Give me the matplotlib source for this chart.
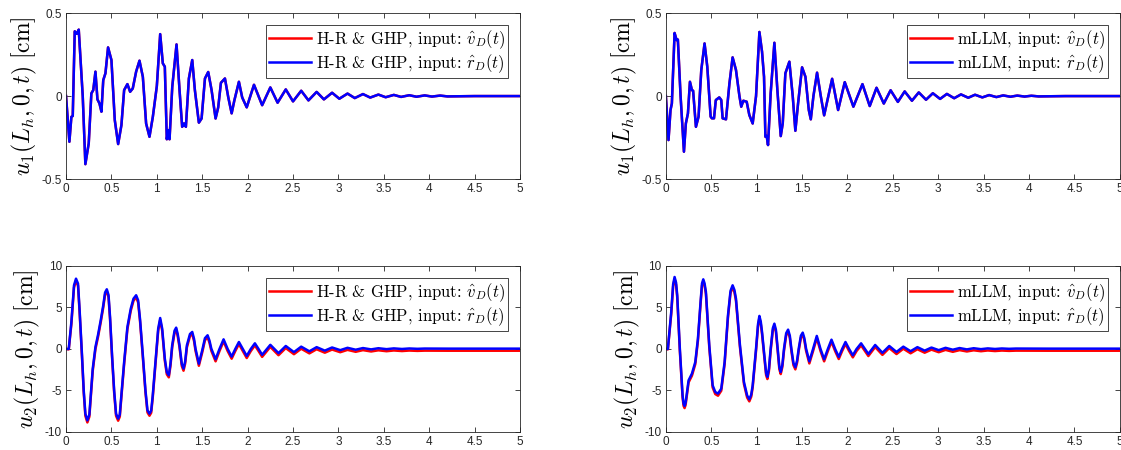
import numpy as np
import matplotlib
matplotlib.use('Agg')
import matplotlib.pyplot as plt

plt.rcParams['mathtext.fontset'] = 'cm'
plt.rcParams['font.family'] = ['Liberation Sans', 'DejaVu Sans']

# u1 tip displacement, H-R & GHP model (both inputs overlap)
hr_u1 = [(0.000, 0.0), (0.037, -0.275), (0.059, -0.125), (0.074, -0.12), (0.096, 0.39),
         (0.118, 0.375), (0.140, 0.40), (0.184, 0.0), (0.213, -0.41), (0.250, -0.285),
         (0.279, 0.016), (0.300, 0.036), (0.324, 0.147), (0.346, -0.02), (0.368, -0.044),
         (0.390, -0.094), (0.410, 0.096), (0.434, 0.137), (0.463, 0.293), (0.500, 0.217),
         (0.537, -0.145), (0.574, -0.289), (0.610, -0.175), (0.640, 0.036), (0.676, 0.072),
         (0.706, 0.026), (0.735, 0.046), (0.772, 0.147), (0.809, 0.213), (0.846, 0.116),
         (0.882, -0.165), (0.919, -0.245), (0.956, -0.125), (1.000, 0.06), (1.037, 0.373),
         (1.066, 0.197), (1.088, 0.177), (1.110, -0.26), (1.125, -0.205), (1.140, -0.26),
         (1.170, 0.056), (1.217, 0.311), (1.250, 0.036), (1.279, -0.185), (1.300, -0.165),
         (1.320, -0.185), (1.353, 0.106), (1.390, 0.217), (1.419, 0.036), (1.463, -0.16),
         (1.493, -0.135), (1.530, 0.106), (1.566, 0.145), (1.603, 0.036), (1.647, -0.135),
         (1.676, -0.068), (1.706, 0.08), (1.750, 0.106), (1.787, -0.008), (1.824, -0.104),
         (1.853, -0.028), (1.904, 0.086), (1.940, -0.008), (1.990, -0.068), (2.070, 0.068),
         (2.160, -0.055), (2.250, 0.052), (2.330, -0.04), (2.420, 0.04), (2.500, -0.032),
         (2.590, 0.032), (2.670, -0.026), (2.760, 0.025), (2.840, -0.02), (2.930, 0.02),
         (3.010, -0.016), (3.100, 0.015), (3.180, -0.012), (3.270, 0.012), (3.350, -0.009),
         (3.440, 0.009), (3.520, -0.007), (3.610, 0.007), (3.690, -0.005), (3.780, 0.005),
         (3.860, -0.004), (3.950, 0.004), (4.030, -0.003), (4.120, 0.003), (4.200, -0.002),
         (4.500, 0.0), (5.000, 0.0)]

# u1 tip displacement, mLLM model (both inputs overlap)
ml_u1 = [(0.000, 0.0), (0.029, -0.265), (0.051, -0.084), (0.066, -0.044), (0.096, 0.38),
         (0.118, 0.337), (0.132, 0.34), (0.162, 0.0), (0.199, -0.335), (0.220, -0.165),
         (0.243, -0.104), (0.265, 0.086), (0.287, 0.036), (0.300, 0.032), (0.331, -0.185),
         (0.360, -0.124), (0.390, 0.157), (0.426, 0.317), (0.456, 0.177), (0.493, -0.124),
         (0.507, -0.134), (0.530, -0.134), (0.550, -0.024), (0.588, -0.008), (0.610, -0.024),
         (0.625, -0.134), (0.662, -0.14), (0.700, 0.076), (0.735, 0.233), (0.772, 0.157),
         (0.810, 0.0), (0.830, -0.064), (0.853, -0.028), (0.890, -0.034), (0.919, -0.114),
         (0.956, -0.165), (0.993, 0.0), (1.030, 0.386), (1.059, 0.267), (1.081, 0.116),
         (1.096, -0.245), (1.110, -0.24), (1.125, -0.295), (1.154, 0.016), (1.195, 0.321),
         (1.228, 0.036), (1.265, -0.241), (1.287, -0.165), (1.316, 0.137), (1.360, 0.207),
         (1.397, 0.0), (1.426, -0.209), (1.456, -0.044), (1.500, 0.173), (1.537, 0.116),
         (1.574, -0.084), (1.596, -0.14), (1.625, 0.0), (1.665, 0.141), (1.706, 0.0),
         (1.743, -0.116), (1.831, 0.104), (1.897, -0.084), (1.970, 0.084), (2.065, -0.064),
         (2.165, 0.072), (2.245, -0.06), (2.320, 0.05), (2.400, -0.045), (2.475, 0.035),
         (2.555, -0.035), (2.630, 0.028), (2.710, -0.028), (2.785, 0.022), (2.865, -0.022),
         (2.940, 0.017), (3.020, -0.017), (3.095, 0.013), (3.175, -0.013), (3.250, 0.01),
         (3.330, -0.01), (3.405, 0.008), (3.485, -0.008), (3.560, 0.006), (3.640, -0.006),
         (3.715, 0.004), (3.795, -0.004), (3.870, 0.003), (3.950, -0.003), (4.025, 0.002),
         (4.105, -0.002), (4.400, 0.0), (5.000, 0.0)]

# u2 tip displacement, H-R & GHP, input r_D (blue)
hr_u2_r = [(0.000, 0.0), (0.030, 0.0), (0.059, 3.25), (0.088, 7.67), (0.110, 8.47), (0.132, 7.87),
           (0.150, 4.6), (0.176, -0.76), (0.195, -5.0), (0.213, -7.8), (0.235, -8.6), (0.257, -7.9),
           (0.275, -5.2), (0.294, -2.4), (0.324, 0.24), (0.353, 1.73), (0.382, 3.45), (0.410, 5.26),
           (0.430, 6.8), (0.449, 7.19), (0.468, 6.5), (0.485, 3.8), (0.507, -0.76), (0.530, -5.0),
           (0.551, -7.8), (0.574, -8.39), (0.592, -7.9), (0.610, -5.5), (0.640, -1.57), (0.676, 2.65),
           (0.713, 4.86), (0.743, 6.06), (0.772, 6.47), (0.794, 5.86), (0.815, 3.6), (0.846, -0.76),
           (0.875, -5.0), (0.897, -7.39), (0.919, -7.79), (0.938, -7.43), (0.955, -5.6), (0.985, -1.57),
           (1.015, 2.45), (1.037, 3.73), (1.059, 2.45), (1.088, -1.16), (1.110, -2.8), (1.132, -3.17),
           (1.150, -1.8), (1.169, 0.44), (1.195, 2.2), (1.213, 2.57), (1.230, 1.8), (1.250, 0.44),
           (1.275, -1.8), (1.294, -2.37), (1.312, -1.5), (1.331, 0.44), (1.365, 1.8), (1.390, 2.05),
           (1.410, 1.2), (1.426, 0.04), (1.463, -1.77), (1.500, -0.16), (1.530, 1.3), (1.559, 1.65),
           (1.580, 1.0), (1.600, 0.04), (1.647, -1.24), (1.690, 0.0), (1.735, 1.16), (1.780, 0.0),
           (1.824, -0.92), (1.864, 0.0), (1.904, 0.84), (1.947, 0.0), (1.990, -0.84), (2.035, 0.0),
           (2.080, 0.68), (2.120, 0.0), (2.160, -0.7), (2.250, 0.5), (2.340, -0.5), (2.420, 0.36),
           (2.510, -0.38), (2.590, 0.28), (2.680, -0.28), (2.760, 0.22), (2.850, -0.2), (2.930, 0.18),
           (3.020, -0.14), (3.100, 0.14), (3.190, -0.09), (3.270, 0.11), (3.360, -0.05), (3.440, 0.09),
           (3.530, -0.02), (3.610, 0.07), (3.700, 0.0), (3.780, 0.06), (3.870, 0.02), (3.950, 0.05),
           (4.200, 0.04), (5.000, 0.04)]

# u2 tip displacement, H-R & GHP, input v_D (red, sits a bit lower)
hr_u2_v = [(0.000, 0.0), (0.030, -0.05), (0.059, 3.0), (0.088, 7.42), (0.110, 8.22), (0.132, 7.62),
           (0.150, 4.35), (0.176, -1.01), (0.195, -5.25), (0.213, -8.05), (0.235, -8.85), (0.257, -8.15),
           (0.275, -5.45), (0.294, -2.65), (0.324, -0.01), (0.353, 1.48), (0.382, 3.2), (0.410, 5.01),
           (0.430, 6.55), (0.449, 6.94), (0.468, 6.25), (0.485, 3.55), (0.507, -1.01), (0.530, -5.25),
           (0.551, -8.05), (0.574, -8.64), (0.592, -8.15), (0.610, -5.75), (0.640, -1.82), (0.676, 2.4),
           (0.713, 4.61), (0.743, 5.81), (0.772, 6.22), (0.794, 5.61), (0.815, 3.35), (0.846, -1.01),
           (0.875, -5.25), (0.897, -7.64), (0.919, -8.04), (0.938, -7.68), (0.955, -5.85), (0.985, -1.82),
           (1.015, 2.2), (1.037, 3.48), (1.059, 2.2), (1.088, -1.41), (1.110, -3.05), (1.132, -3.42),
           (1.150, -2.05), (1.169, 0.19), (1.195, 1.95), (1.213, 2.32), (1.230, 1.55), (1.250, 0.19),
           (1.275, -2.05), (1.294, -2.62), (1.312, -1.75), (1.331, 0.19), (1.365, 1.55), (1.390, 1.8),
           (1.410, 0.95), (1.426, -0.21), (1.463, -2.02), (1.500, -0.41), (1.530, 1.05), (1.559, 1.4),
           (1.580, 0.75), (1.600, -0.21), (1.647, -1.49), (1.690, -0.25), (1.735, 0.91), (1.780, -0.25),
           (1.824, -1.17), (1.864, -0.25), (1.904, 0.59), (1.947, -0.25), (1.990, -1.09), (2.035, -0.25),
           (2.080, 0.43), (2.120, -0.25), (2.160, -0.95), (2.250, 0.25), (2.340, -0.75), (2.420, 0.11),
           (2.510, -0.63), (2.590, 0.03), (2.680, -0.53), (2.760, -0.03), (2.850, -0.45), (2.930, -0.07),
           (3.020, -0.39), (3.100, -0.11), (3.190, -0.34), (3.270, -0.14), (3.360, -0.3), (3.440, -0.16),
           (3.530, -0.27), (3.610, -0.18), (3.700, -0.25), (3.780, -0.19), (3.870, -0.23), (3.950, -0.2),
           (4.200, -0.21), (5.000, -0.21)]

# u2 tip displacement, mLLM, input r_D (blue)
ml_u2_r = [(0.000, 0.0), (0.022, 0.0), (0.059, 4.46), (0.080, 7.8), (0.096, 8.67), (0.112, 8.0),
           (0.125, 6.47), (0.154, 0.0), (0.184, -5.6), (0.195, -6.6), (0.206, -6.87), (0.217, -6.5),
           (0.228, -5.6), (0.250, -3.78), (0.287, -2.97), (0.324, -1.57), (0.353, 1.24), (0.382, 5.66),
           (0.398, 7.9), (0.412, 8.39), (0.426, 7.9), (0.441, 6.87), (0.478, 0.44), (0.515, -4.38),
           (0.544, -5.18), (0.574, -5.38), (0.610, -4.78), (0.647, -1.57), (0.684, 4.06), (0.712, 7.0),
           (0.735, 7.67), (0.755, 7.1), (0.772, 6.06), (0.816, 0.44), (0.860, -3.98), (0.895, -5.6),
           (0.919, -6.06), (0.940, -5.5), (0.956, -4.38), (0.993, 0.04), (1.015, 3.0), (1.030, 3.98),
           (1.045, 3.3), (1.059, 2.05), (1.088, -1.16), (1.104, -2.9), (1.118, -3.37), (1.135, -2.4),
           (1.154, 0.04), (1.178, 2.5), (1.195, 3.05), (1.212, 2.3), (1.228, 0.44), (1.250, -2.2),
           (1.265, -2.77), (1.283, -1.9), (1.301, 0.04), (1.325, 1.9), (1.346, 2.33), (1.365, 1.6),
           (1.382, 0.04), (1.405, -1.7), (1.426, -2.21), (1.445, -1.4), (1.463, 0.04), (1.487, 1.6),
           (1.507, 1.97), (1.525, 1.3), (1.544, 0.04), (1.580, -1.49), (1.621, 0.0), (1.662, 1.57),
           (1.703, 0.0), (1.743, -1.24), (1.784, 0.0), (1.824, 1.12), (1.864, 0.0), (1.904, -0.96),
           (1.941, 0.0), (1.978, 0.84), (2.018, 0.0), (2.059, -0.76), (2.100, 0.0), (2.150, 0.68),
           (2.230, -0.6), (2.305, 0.48), (2.385, -0.46), (2.460, 0.36), (2.540, -0.36), (2.615, 0.28),
           (2.695, -0.27), (2.770, 0.22), (2.850, -0.2), (2.925, 0.17), (3.005, -0.14), (3.080, 0.14),
           (3.160, -0.09), (3.235, 0.11), (3.315, -0.05), (3.390, 0.09), (3.470, -0.02), (3.545, 0.07),
           (3.625, 0.0), (3.700, 0.06), (3.780, 0.02), (3.855, 0.05), (4.200, 0.04), (5.000, 0.04)]

# u2 tip displacement, mLLM, input v_D (red)
ml_u2_v = [(0.000, 0.0), (0.022, -0.05), (0.059, 4.21), (0.080, 7.55), (0.096, 8.42), (0.112, 7.75),
           (0.125, 6.22), (0.154, -0.25), (0.184, -5.85), (0.195, -6.85), (0.206, -7.12), (0.217, -6.75),
           (0.228, -5.85), (0.250, -4.03), (0.287, -3.22), (0.324, -1.82), (0.353, 0.99), (0.382, 5.41),
           (0.398, 7.65), (0.412, 8.14), (0.426, 7.65), (0.441, 6.62), (0.478, 0.19), (0.515, -4.63),
           (0.544, -5.43), (0.574, -5.63), (0.610, -5.03), (0.647, -1.82), (0.684, 3.81), (0.712, 6.75),
           (0.735, 7.42), (0.755, 6.85), (0.772, 5.81), (0.816, 0.19), (0.860, -4.23), (0.895, -5.85),
           (0.919, -6.31), (0.940, -5.75), (0.956, -4.63), (0.993, -0.21), (1.015, 2.75), (1.030, 3.73),
           (1.045, 3.05), (1.059, 1.8), (1.088, -1.41), (1.104, -3.15), (1.118, -3.62), (1.135, -2.65),
           (1.154, -0.21), (1.178, 2.25), (1.195, 2.8), (1.212, 2.05), (1.228, 0.19), (1.250, -2.45),
           (1.265, -3.02), (1.283, -2.15), (1.301, -0.21), (1.325, 1.65), (1.346, 2.08), (1.365, 1.35),
           (1.382, -0.21), (1.405, -1.95), (1.426, -2.46), (1.445, -1.65), (1.463, -0.21), (1.487, 1.35),
           (1.507, 1.72), (1.525, 1.05), (1.544, -0.21), (1.580, -1.74), (1.621, -0.25), (1.662, 1.32),
           (1.703, -0.25), (1.743, -1.49), (1.784, -0.25), (1.824, 0.87), (1.864, -0.25), (1.904, -1.21),
           (1.941, -0.25), (1.978, 0.59), (2.018, -0.25), (2.059, -1.01), (2.100, -0.25), (2.150, 0.43),
           (2.230, -0.85), (2.305, 0.23), (2.385, -0.71), (2.460, 0.11), (2.540, -0.61), (2.615, 0.03),
           (2.695, -0.52), (2.770, -0.03), (2.850, -0.45), (2.925, -0.08), (3.005, -0.39), (3.080, -0.11),
           (3.160, -0.34), (3.235, -0.14), (3.315, -0.3), (3.390, -0.16), (3.470, -0.27), (3.545, -0.18),
           (3.625, -0.25), (3.700, -0.19), (3.780, -0.23), (3.855, -0.2), (4.200, -0.21), (5.000, -0.21)]

fig = plt.figure(figsize=(11.21, 4.5), dpi=100)
pos = {(0, 0): [0.0589, 0.602, 0.405, 0.369], (0, 1): [0.594, 0.602, 0.405, 0.369],
       (1, 0): [0.0589, 0.040, 0.405, 0.369], (1, 1): [0.594, 0.040, 0.405, 0.369]}

panels = [((0, 0), hr_u1, hr_u1, 'H-R & GHP', r'$u_1(L_h,0,t)\ [\mathrm{cm}]$', 0.5),
          ((0, 1), ml_u1, ml_u1, 'mLLM', r'$u_1(L_h,0,t)\ [\mathrm{cm}]$', 0.5),
          ((1, 0), hr_u2_v, hr_u2_r, 'H-R & GHP', r'$u_2(L_h,0,t)\ [\mathrm{cm}]$', 10),
          ((1, 1), ml_u2_v, ml_u2_r, 'mLLM', r'$u_2(L_h,0,t)\ [\mathrm{cm}]$', 10)]

for key, red, blue, model, ylab, lim in panels:
    ax = fig.add_axes(pos[key])
    tr, yr = np.array(red).T
    tb, yb = np.array(blue).T
    ax.plot(tr, yr, color='red', lw=1.8, label=model + r', input: $\hat{v}_D(t)$')
    ax.plot(tb, yb, color='blue', lw=1.8, label=model + r', input: $\hat{r}_D(t)$')
    ax.set_xlim(0, 5)
    ax.set_ylim(-lim, lim)
    ax.set_xticks(np.arange(0, 5.01, 0.5))
    ax.set_xticklabels(['0', '0.5', '1', '1.5', '2', '2.5', '3', '3.5', '4', '4.5', '5'])
    if lim == 0.5:
        ax.set_yticks([-0.5, 0, 0.5])
        ax.set_yticklabels(['-0.5', '0', '0.5'])
    else:
        ax.set_yticks([-10, -5, 0, 5, 10])
        ax.set_yticklabels(['-10', '-5', '0', '5', '10'])
    ax.tick_params(direction='in', top=True, right=True, labelsize=8.5,
                   colors='#262626', length=3.5, width=0.6, pad=3)
    for s in ax.spines.values():
        s.set_color('#262626')
        s.set_linewidth(0.6)
    ax.set_ylabel(ylab, fontsize=17, labelpad=2)
    leg = ax.legend(loc='upper right', prop={'family': 'cmr10', 'size': 12},
                    fancybox=False, edgecolor='#262626', framealpha=1,
                    handlelength=2.5, handletextpad=0.3, borderpad=0.2,
                    labelspacing=0.1, borderaxespad=0.7)
    leg.get_frame().set_linewidth(0.6)

fig.savefig('out.png', dpi=100)
